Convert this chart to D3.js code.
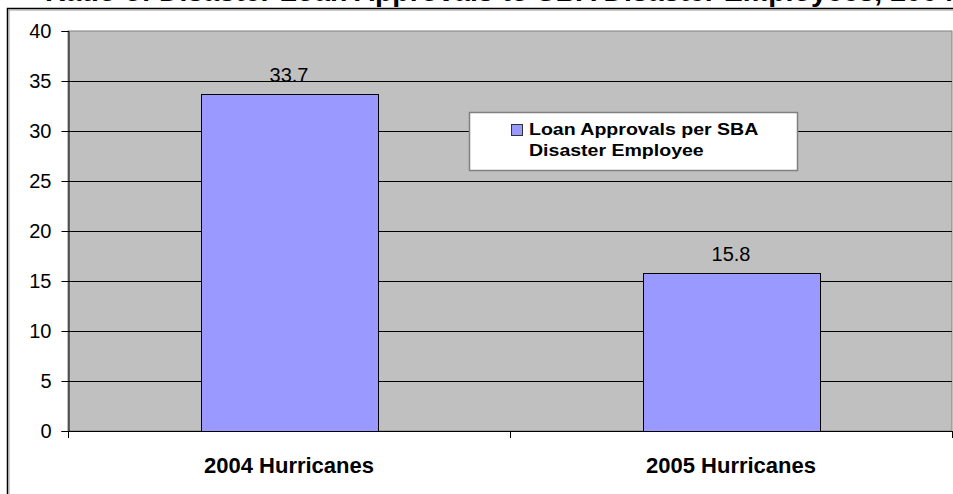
<!DOCTYPE html>
<html>
<head>
<meta charset="utf-8">
<script src="https://cdn.jsdelivr.net/npm/d3@7"></script>
<style>
  html, body { margin: 0; padding: 0; background: #fff; }
  svg { display: block; font-family: Arial, "Liberation Sans", sans-serif; }
</style>
</head>
<body>
<svg id="chart" width="953" height="494"></svg>
<script>
// Loan approvals per SBA disaster employee, by hurricane season
const categories = ["2004 Hurricanes", "2005 Hurricanes"];
const approvalsPerEmployee = [33.7, 15.8];
const yTicks = [0, 5, 10, 15, 20, 25, 30, 35, 40];
const seriesName = ["Loan Approvals per SBA", "Disaster Employee"];
const title = "Ratio of Disaster Loan Approvals to SBA Disaster Employees, 2004 and 2005 Hurricanes";

const svg = d3.select("#chart");
const W = 953, H = 494;
const plot = { left: 68, right: 952, top: 31, bottom: 431 };

// Title (sits above the chart frame, running past the page top)
svg.append("text")
  .attr("x", 45).attr("y", 1)
  .attr("font-size", 28.5).attr("font-weight", "bold")
  .attr("fill", "#000")
  .text(title);

// Outer chart frame
svg.append("path")
  .attr("d", `M7.5,${H + 2} V8.5 H${W + 2}`)
  .attr("fill", "none").attr("stroke", "#000").attr("stroke-width", 1.5);
svg.append("path")
  .attr("d", `M9,${H + 2} V10 H${W + 2}`)
  .attr("fill", "none").attr("stroke", "#999").attr("stroke-width", 1);

const x = d3.scaleBand().domain(categories).range([plot.left, plot.right]).paddingInner(0).paddingOuter(0);
const y = d3.scaleLinear().domain([0, 40]).range([plot.bottom, plot.top]);
const barW = x.bandwidth() * 0.4;

// Plot area background
svg.append("rect")
  .attr("x", plot.left).attr("y", plot.top)
  .attr("width", plot.right - plot.left).attr("height", plot.bottom - plot.top)
  .attr("fill", "#C0C0C0").attr("stroke", "#808080").attr("stroke-width", 1);

// Horizontal gridlines
svg.append("g").selectAll("line")
  .data(yTicks.filter(t => t > 0 && t < 40))
  .join("line")
  .attr("x1", plot.left).attr("x2", plot.right)
  .attr("y1", d => Math.round(y(d)) + 0.5).attr("y2", d => Math.round(y(d)) + 0.5)
  .attr("stroke", "#000").attr("stroke-width", 1);

// Bars
svg.append("g").selectAll("rect")
  .data(categories.map((c, i) => ({ c, v: approvalsPerEmployee[i] })))
  .join("rect")
  .attr("x", d => Math.round(x(d.c) + (x.bandwidth() - barW) / 2) + 0.5)
  .attr("y", d => Math.round(y(d.v)) + 0.5)
  .attr("width", Math.round(barW))
  .attr("height", d => Math.round(y(0)) - Math.round(y(d.v)))
  .attr("fill", "#9999FF").attr("stroke", "#000").attr("stroke-width", 1);

// Value labels
svg.append("g").selectAll("text")
  .data(categories.map((c, i) => ({ c, v: approvalsPerEmployee[i] })))
  .join("text")
  .attr("x", d => x(d.c) + x.bandwidth() / 2)
  .attr("y", d => y(d.v) - 12.5)
  .attr("text-anchor", "middle")
  .attr("font-size", 20).attr("fill", "#000")
  .text(d => d.v.toFixed(1));

// Y axis
const yAxis = d3.axisLeft(y).tickValues(yTicks).tickSize(7).tickPadding(10).tickFormat(d3.format("d"));
const gy = svg.append("g").attr("transform", `translate(${plot.left + 0.5},0)`).call(yAxis);
gy.select(".domain").attr("stroke", "#000");
gy.selectAll(".tick line").attr("stroke", "#000");
gy.selectAll(".tick text").attr("font-size", 20).attr("font-family", "Arial, 'Liberation Sans', sans-serif").attr("fill", "#000");

// X axis: ticks at category boundaries
const boundaries = [plot.left, ...categories.map(c => x(c) + x.bandwidth())];
svg.append("line")
  .attr("x1", plot.left).attr("x2", plot.right)
  .attr("y1", plot.bottom + 0.5).attr("y2", plot.bottom + 0.5)
  .attr("stroke", "#000").attr("stroke-width", 1);
svg.append("g").selectAll("line")
  .data(boundaries)
  .join("line")
  .attr("x1", d => Math.round(d) + 0.5).attr("x2", d => Math.round(d) + 0.5)
  .attr("y1", plot.bottom).attr("y2", plot.bottom + 7)
  .attr("stroke", "#000");

svg.append("g").selectAll("text")
  .data(categories)
  .join("text")
  .attr("x", d => x(d) + x.bandwidth() / 2)
  .attr("y", 473)
  .attr("text-anchor", "middle")
  .attr("font-size", 22).attr("font-weight", "bold").attr("fill", "#000")
  .text(d => d);

// Legend
const lg = svg.append("g");
lg.append("rect")
  .attr("x", 469.5).attr("y", 112.5).attr("width", 328).attr("height", 58)
  .attr("fill", "#fff").attr("stroke", "#808080").attr("stroke-width", 1.5);
lg.append("rect")
  .attr("x", 511.5).attr("y", 124.5).attr("width", 11).attr("height", 11)
  .attr("fill", "#9999FF").attr("stroke", "#333").attr("stroke-width", 1);
const lt = lg.append("g").attr("transform", "translate(529,0) scale(1.15,1)");
lt.selectAll("text")
  .data(seriesName)
  .join("text")
  .attr("x", 0)
  .attr("y", (d, i) => 135 + i * 21)
  .attr("font-size", 17).attr("font-weight", "bold").attr("fill", "#000")
  .text(d => d);
</script>
</body>
</html>
